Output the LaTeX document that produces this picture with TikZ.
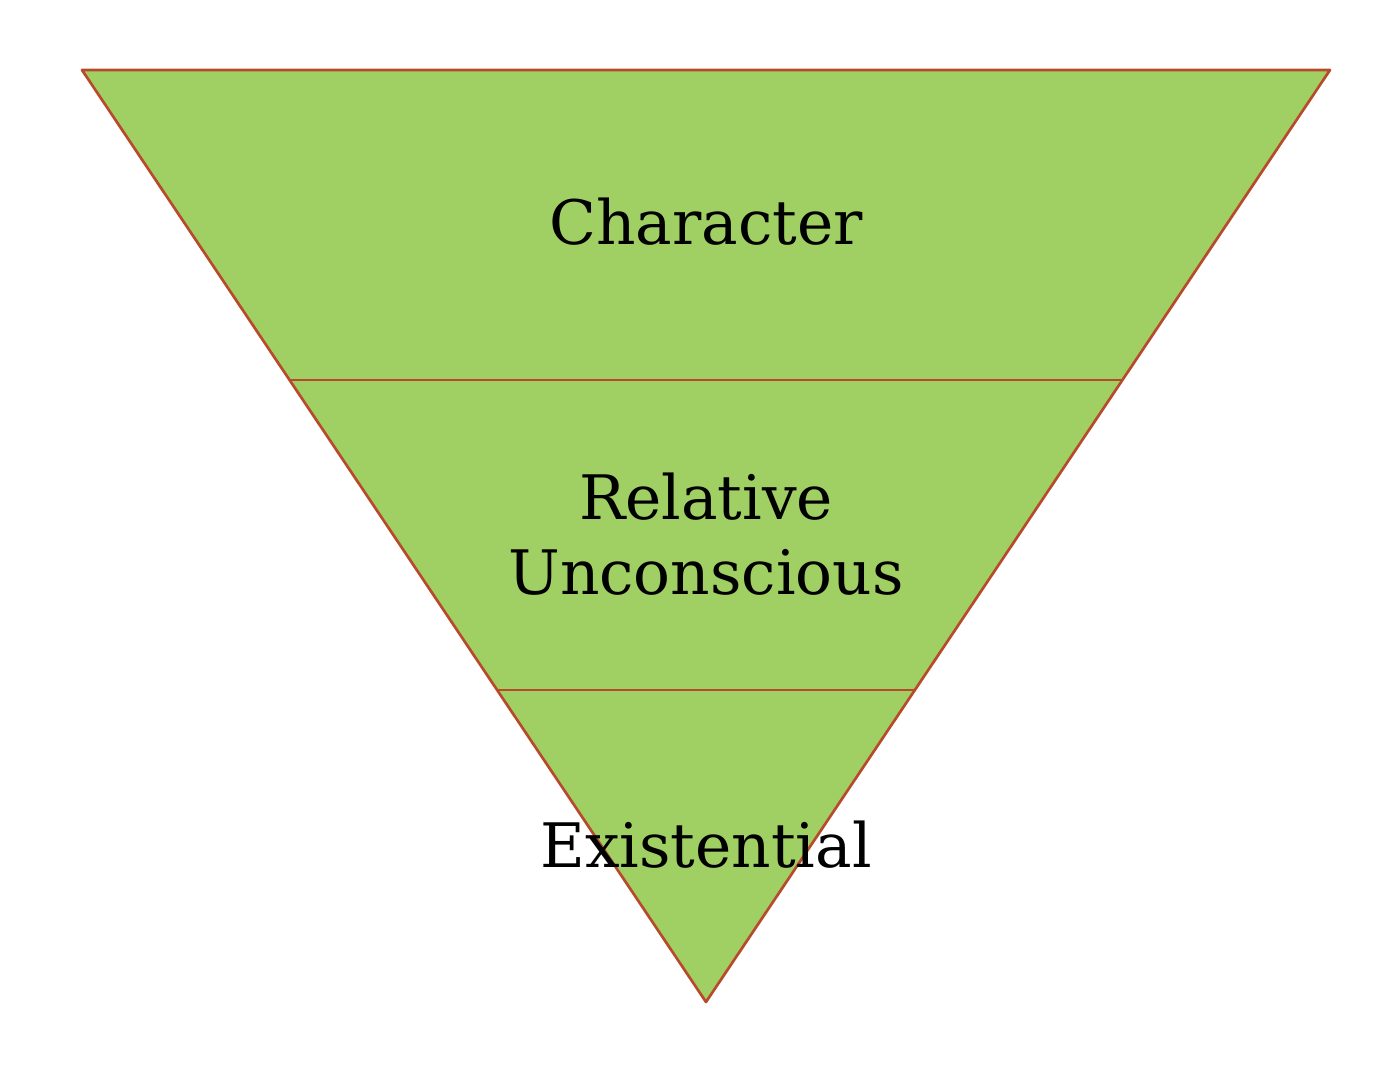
\documentclass[tikz,border=0pt]{standalone}
\usepackage{fontspec}
\setmainfont{DejaVu Serif}
\definecolor{band}{HTML}{A0CF63}
\definecolor{edge}{HTML}{B84A2C}
\begin{document}
\begin{tikzpicture}[x=0.75pt,y=-0.75pt,
  lbl/.style={font=\fontsize{46}{56}\selectfont, align=center, text=black}]
\useasboundingbox (0,0) rectangle (1400,1080);
\filldraw[fill=band,draw=edge,line width=2pt,line join=round] (82,70) -- (1330,70) -- (706,1002) -- cycle;
\draw[edge,line width=2pt] (290,380) -- (1122,380);
\draw[edge,line width=2pt] (497,690) -- (915,690);
\node[lbl] (c) at (706,222) {Character};
\node[lbl] (r) at (706,534) {Relative\\Unconscious};
\node[lbl] (e) at (706,845) {Existential};
\end{tikzpicture}
\end{document}
